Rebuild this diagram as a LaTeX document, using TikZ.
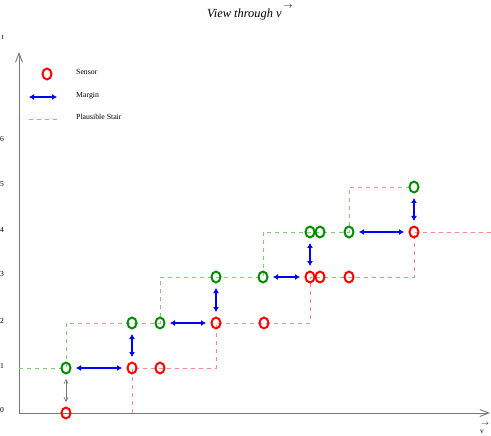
\documentclass[tikz,border=0pt]{standalone}
\usepackage{fontspec}
\setmainfont{Liberation Serif}
\usetikzlibrary{arrows.meta,shapes.geometric}
\definecolor{sgreen}{RGB}{0,140,0}
\definecolor{sred}{RGB}{255,0,0}
\definecolor{sblue}{RGB}{0,0,255}
\definecolor{stairgreen}{RGB}{125,205,125}
\definecolor{stairred}{RGB}{255,135,135}
\definecolor{axisgray}{RGB}{120,120,120}
\begin{document}
\begin{tikzpicture}[x=1pt,y=-1pt,
  sensor/.style={ellipse,draw,line width=2pt,minimum width=9pt,minimum height=11pt,inner sep=0pt},
  redsensor/.style={sensor,draw=sred},
  greensensor/.style={sensor,draw=sgreen},
  margin/.style={draw=sblue,line width=2.4pt,{Latex[length=5pt,width=6pt]}-{Latex[length=5pt,width=6pt]}},
  gap/.style={shorten <=4.5pt,shorten >=4.5pt},
  stairG/.style={draw=stairgreen,line width=0.9pt,dash pattern=on 4pt off 4pt},
  stairR/.style={draw=stairred,line width=0.9pt,dash pattern=on 4pt off 4pt},
  axis/.style={draw=axisgray,line width=0.9pt,-{Straight Barb[length=9pt,width=7pt]}},
  tick/.style={anchor=east,inner sep=0pt,font=\fontsize{7.6}{8}\selectfont},
  legtext/.style={anchor=base west,inner sep=0pt,font=\fontsize{7.8}{8}\selectfont}
]
\useasboundingbox (0,0) rectangle (491,436);

% title
\node[anchor=base west,inner sep=0pt,font=\fontsize{12.4}{14}\selectfont\itshape] (title) at (207,18) {View through v};
\node[inner sep=0pt,font=\fontsize{9}{9}\selectfont] (titlearrow) at (288,6.5) {$\rightarrow$};

% axes
\coordinate (o) at (19,413);
\coordinate (ytip) at (19,52);
\coordinate (xtip) at (490,413);
\draw[axis] (o) -- (ytip);
\draw[axis] (o) -- (xtip);
\node[inner sep=0pt,font=\fontsize{7}{7}\selectfont] (varrow) at (485,424) {$\rightarrow$};
\node[inner sep=0pt,font=\fontsize{7.4}{8}\selectfont] (vlabel) at (482,432) {v};
\node[tick] (tl) at (4,37.5) {t};
\node[tick] (t0) at (4,410.5) {0};
\node[tick] (t1) at (4,365.5) {1};
\node[tick] (t2) at (4,320.5) {2};
\node[tick] (t3) at (4,274.5) {3};
\node[tick] (t4) at (4,229.5) {4};
\node[tick] (t5) at (4,184.5) {5};
\node[tick] (t6) at (4,139) {6};

% legend
\node[redsensor] (leg1) at (47,74) {};
\node[legtext] (legs) at (76,75) {Sensor};
\coordinate (lm1) at (29,97);
\coordinate (lm2) at (57,97);
\draw[margin] (lm1) -- (lm2);
\node[legtext] (legm) at (76,98) {Margin};
\coordinate (lp1) at (29,119);
\coordinate (lp2) at (57,119);
\draw[stairR] (lp1) -- (lp2);
\node[legtext] (legp) at (76,120) {Plausible Stair};

% sensor positions
\coordinate (gA) at (66,368);
\coordinate (gB) at (132,323);
\coordinate (gC) at (160,323);
\coordinate (gD) at (216,277);
\coordinate (gE) at (263,277);
\coordinate (gF) at (310,232);
\coordinate (gG) at (320,232);
\coordinate (gH) at (349,232);
\coordinate (gI) at (414,187);
\coordinate (rA) at (66,413);
\coordinate (rB) at (132,368);
\coordinate (rC) at (160,368);
\coordinate (rD) at (216,323);
\coordinate (rE) at (264,323);
\coordinate (rF) at (310,277);
\coordinate (rG) at (320,277);
\coordinate (rH) at (349,277);
\coordinate (rI) at (414,232);
\coordinate (gstart) at (19,368);
\coordinate (rend) at (491,232);

% stairs
\draw[stairG] (gstart) -- (gA) -- (gA |- gB) -- (gC) -- (gC |- gD) -- (gE) -- (gE |- gF) -- (gH) -- (gH |- gI) -- (gI);
\draw[stairR] (rB |- o) -- (rB) -- (rD |- rB) -- (rD) -- (rF |- rD) -- (rF) -- (rI |- rF) -- (rI) -- (rend);

% sensors
\foreach \n in {A,B,C,D,E,F,G,H,I}{
  \node[greensensor] (G\n) at (g\n) {};
  \node[redsensor] (R\n) at (r\n) {};
}

% margins
\draw[margin,gap] (GA) -- (RB);
\draw[margin,gap] (GB) -- (RB);
\draw[margin,gap] (GC) -- (RD);
\draw[margin,gap] (GD) -- (RD);
\draw[margin,gap] (GE) -- (RF);
\draw[margin,gap] (GF) -- (RF);
\draw[margin,gap] (GH) -- (RI);
\draw[margin,gap] (GI) -- (RI);
\draw[draw=axisgray,line width=0.6pt,gap,{Straight Barb[length=4pt,width=4pt]}-{Straight Barb[length=4pt,width=4pt]}] (GA) -- (RA);
\end{tikzpicture}
\end{document}
